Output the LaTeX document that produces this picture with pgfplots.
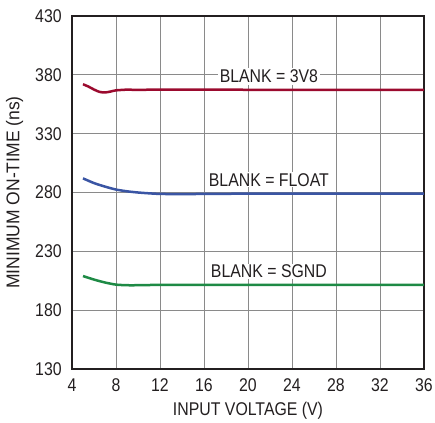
\documentclass[border=0pt]{standalone}
\usepackage{fontspec}
\setmainfont{Liberation Sans}[FakeStretch=0.86]
\newfontfamily\ylabfont{Liberation Sans}[FakeStretch=0.95]
\usepackage{pgfplots}
\pgfplotsset{compat=1.18}
\definecolor{cred}{HTML}{9B0A2E}
\definecolor{cblue}{HTML}{3A55A4}
\definecolor{cgreen}{HTML}{1E8A45}
\definecolor{cgrid}{HTML}{8A8A8A}
\definecolor{ctext}{HTML}{231F20}
\begin{document}
\fontsize{18.5}{22}\selectfont
\begin{tikzpicture}
\begin{axis}[
  scale only axis,
  width=352bp, height=353bp,
  xmin=4, xmax=36, ymin=130, ymax=430,
  xtick={4,8,...,36}, ytick={130,180,...,430},
  grid=major,
  major grid style={cgrid, line width=0.9bp},
  major tick length=0pt,
  axis line style={ctext, line width=1.6bp},
  tick label style={font=\fontsize{18.5}{22}\selectfont, text=ctext},
  /pgf/number format/assume math mode=true,
  xticklabel style={yshift=-3bp},
  yticklabel style={xshift=-4bp},
  xlabel={INPUT VOLTAGE (V)},
  ylabel={MINIMUM ON-TIME (ns)},
  xlabel style={font=\fontsize{18.5}{22}\selectfont, text=ctext, at={(axis description cs:0.5,-0.131)}, anchor=base},
  ylabel style={font=\ylabfont\fontsize{18.5}{22}\selectfont, text=ctext, at={(axis description cs:-0.163,0.5)}, anchor=center},
  every axis plot/.append style={line width=2.5bp, smooth, tension=0.4},
]
\addplot[cred] coordinates {
 (5,372) (5.5,370) (6,367.5) (6.5,365.5) (7,365) (7.5,365.8) (8,366.8) (9,367.4) (10,367.2) (12,367.5) (16,367.5) (20,367.3) (24,367.2) (28,367.2) (32,367.2) (36,367.2)};
\addplot[cblue] coordinates {
 (5,292) (6,288) (7,285) (8,282.5) (9,281) (10,280) (11,279.3) (12,278.8) (14,278.6) (16,278.8) (20,279) (24,279) (28,279) (32,279) (36,279)};
\addplot[cgreen] coordinates {
 (5,209) (6,206) (7,203.5) (8,201.7) (9,201.2) (10,201.2) (12,201.5) (16,201.5) (20,201.5) (24,201.5) (28,201.5) (32,201.5) (36,201.5)};
\node[fill=white, text=ctext, inner sep=2bp] at (axis cs:21.9,378.5) {BLANK = 3V8};
\node[fill=white, text=ctext, inner sep=1bp] at (axis cs:21.9,290.7) {BLANK = FLOAT};
\node[fill=white, text=ctext, inner sep=1bp] at (axis cs:21.9,212.8) {BLANK = SGND};
\end{axis}
\pgfresetboundingbox
\path (current axis.south west) ++(-72bp,-54bp) coordinate (bbA);
\path (current axis.north east) ++(11bp,16bp) coordinate (bbB);
\useasboundingbox (bbA) rectangle (bbB);
\end{tikzpicture}
\end{document}
